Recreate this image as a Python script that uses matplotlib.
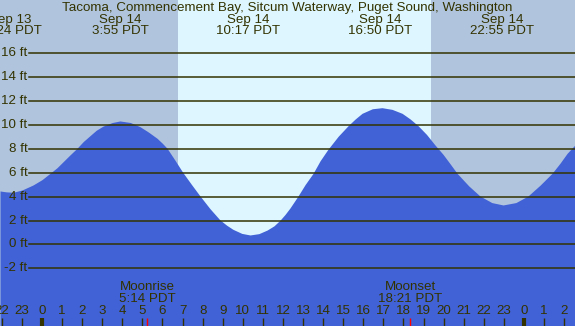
import matplotlib
matplotlib.use("Agg")
import matplotlib.pyplot as plt

# tide curve (hours from Sep 14 00:00, feet)
tide_hours = [-2.09, -1.80, -1.44, -1.00, -0.45, 0.00, 0.40, 0.75, 1.05, 1.40, 1.74,
              2.05, 2.39, 2.70, 3.04, 3.50, 3.88, 4.40, 4.88, 5.30, 5.73, 6.00, 6.23,
              6.62, 7.02, 7.45, 7.87, 8.36, 8.86, 9.20, 9.51, 9.95, 10.36, 10.80,
              11.21, 11.55, 11.85, 12.10, 12.35, 12.75, 13.10, 13.50, 13.85, 14.24,
              14.75, 15.24, 15.60, 15.94, 16.45, 16.93, 17.43, 17.93, 18.33, 18.73,
              19.15, 19.57, 19.97, 20.30, 20.67, 21.25, 21.81, 22.40, 22.96, 23.60,
              24.20, 24.80, 25.40, 25.80, 26.15, 26.54]
tide_ft = [4.47, 4.40, 4.36, 4.55, 4.97, 5.42, 5.95, 6.42, 6.92, 7.50, 8.04,
           8.60, 9.10, 9.55, 9.90, 10.20, 10.33, 10.20, 9.85, 9.40, 8.88, 8.45, 8.04,
           7.05, 6.00, 5.00, 4.05, 3.00, 2.05, 1.60, 1.26, 0.92, 0.79, 0.90,
           1.20, 1.55, 2.02, 2.50, 3.05, 4.05, 5.00, 5.95, 7.00, 7.96,
           9.05, 9.93, 10.50, 10.97, 11.35, 11.44, 11.30, 10.97, 10.50, 9.93,
           9.20, 8.32, 7.54, 6.80, 5.95, 4.90, 4.05, 3.50, 3.30, 3.50,
           4.05, 4.95, 5.95, 6.80, 7.62, 8.32]

# high / low labels
extreme_hours = [-1.60, 3 + 55 / 60, 10 + 17 / 60, 16 + 50 / 60, 22 + 55 / 60]
extreme_dates = ["Sep 13", "Sep 14", "Sep 14", "Sep 14", "Sep 14"]
extreme_times = ["22:24 PDT", "3:55 PDT", "10:17 PDT", "16:50 PDT", "22:55 PDT"]

sunrise = 6 + 46 / 60
sunset = 19 + 22 / 60
moon_hours = [5 + 14 / 60, 18 + 21 / 60]
moon_names = ["Moonrise", "Moonset"]
moon_times = ["5:14 PDT", "18:21 PDT"]

grid_ft = [-2, 0, 2, 4, 6, 8, 10, 12, 14, 16]
hour_ticks = list(range(-2, 27))

title = "Tacoma, Commencement Bay, Sitcum Waterway, Puget Sound, Washington"

W, H = 575, 326
night = "#b0c4de"
day = "#ddf6ff"
water = "#4161d7"
ink = "#333300"

plt.rcParams["font.family"] = ["Liberation Sans", "DejaVu Sans"]
fs = 9.6

fig = plt.figure(figsize=(W / 100, H / 100), dpi=100)
ax = fig.add_axes([0, 0, 1, 1])
x0, x1 = -42 / 20.08, (W - 42) / 20.08
ax.set_xlim(x0, x1)
ax.set_ylim((244.4 - H) / 11.95, 244.4 / 11.95)
ax.axis("off")

ax.axvspan(x0, x1, color=night, lw=0, zorder=0)
ax.axvspan(sunrise, sunset, color=day, lw=0, zorder=0)
ax.fill_between(tide_hours, tide_ft, -10, color=water, lw=0, zorder=1)

for g in grid_ft:
    ax.axhline(g, xmin=29 / W, xmax=1, color=ink, lw=1.1, zorder=2)
    ax.text(27.5 / W, g, f"{g} ft", transform=ax.get_yaxis_transform(),
            ha="right", va="center", fontsize=fs, color=ink)

ax.text(287 / W, 1 - 7.5 / H, title, transform=ax.transAxes,
        ha="center", va="center", fontsize=fs, color=ink)

xt = ax.get_xaxis_transform()
for h, d, t in zip(extreme_hours, extreme_dates, extreme_times):
    ax.text(h, 1 - 19.5 / H, d, transform=xt, ha="center", va="center", fontsize=fs, color=ink)
    ax.text(h, 1 - 31.5 / H, t, transform=xt, ha="center", va="center", fontsize=fs, color=ink)

for h, n, t in zip(moon_hours, moon_names, moon_times):
    ax.text(h, 1 - 287.5 / H, n, transform=xt, ha="center", va="center", fontsize=fs, color=ink)
    ax.text(h, 1 - 299.5 / H, t, transform=xt, ha="center", va="center", fontsize=fs, color=ink)
    ax.vlines(h, 0, 8 / H, transform=xt, color="red", lw=1, zorder=3)

for h in hour_ticks:
    ax.text(h, 1 - 311.5 / H, str(h % 24), transform=xt, ha="center", va="center",
            fontsize=fs, color=ink)
    ax.vlines(h, 0, 8 / H, transform=xt, color=ink, lw=3 if h % 24 == 0 else 1, zorder=3)

fig.savefig("out.png", dpi=100)
